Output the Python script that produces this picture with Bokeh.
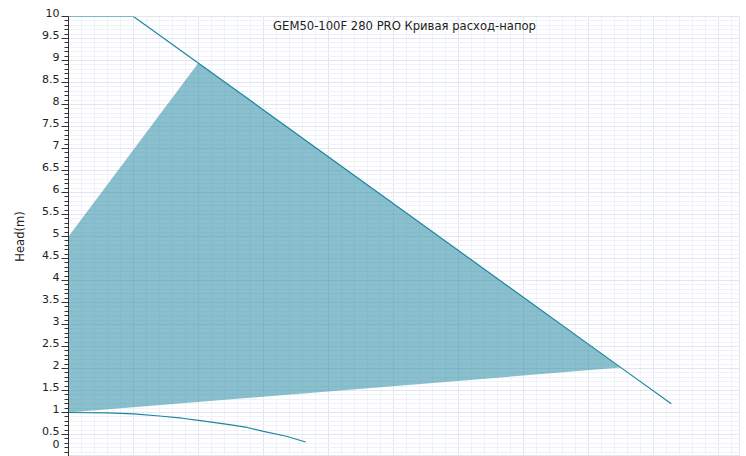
from bokeh.plotting import figure
from bokeh.models import Range1d, SingleIntervalTicker, Grid, Label
from bokeh.embed import file_html
from bokeh.resources import INLINE

# Data (flow in m3/h, head in m)
max_flow = [0, 2, 4, 17, 18.55]
max_head = [10, 10, 8.94, 2.02, 1.2]

area_flow = [0, 4, 17, 0]
area_head = [5.0, 8.95, 2.02, 1.0]

low_flow = [0, 1.2, 2, 2.8, 3.5, 4, 4.9, 5.5, 6, 6.7, 7.3]
low_head = [1.0, 0.99, 0.97, 0.92, 0.87, 0.82, 0.73, 0.66, 0.57, 0.46, 0.33]

y_ticks = [i * 0.5 for i in range(21)]
y_tick_labels = ["0", "0.5", "1", "1.5", "2", "2.5", "3", "3.5", "4", "4.5", "5",
                 "5.5", "6", "6.5", "7", "7.5", "8", "8.5", "9", "9.5", "10"]

title_text = "GEM50-100F 280 PRO Кривая расход-напор"
y_label = "Head(m)"

TEAL = "#1e87a0"

p = figure(width=740, height=456, output_backend="svg", toolbar_location=None,
           x_range=Range1d(0, 20.68), y_range=Range1d(0, 10),
           x_axis_location=None, min_border_left=68, min_border_top=16,
           min_border_right=0, min_border_bottom=0)
p.outline_line_color = "#e3e6f2"
p.grid.visible = False

xg = Grid(dimension=0, ticker=SingleIntervalTicker(interval=2, num_minor_ticks=5),
          grid_line_color="#e3e6f2", minor_grid_line_color="#f0f2f9")
yg = Grid(dimension=1, ticker=SingleIntervalTicker(interval=0.5, num_minor_ticks=5),
          grid_line_color="#e3e6f2", minor_grid_line_color="#f0f2f9")
p.add_layout(xg)
p.add_layout(yg)

ax = p.yaxis[0]
ax.ticker = SingleIntervalTicker(interval=0.5, num_minor_ticks=5)
# labels sit slightly above their ticks: add an empty second line
ax.major_label_overrides = {t: s + "\n " for t, s in zip(y_ticks, y_tick_labels)}
ax.major_label_text_line_height = 0.45
ax.major_label_text_font = "DejaVu Sans"
ax.major_label_text_font_size = "11px"
ax.major_label_text_color = "#222222"
ax.major_label_standoff = 2
ax.major_tick_out = 7
ax.major_tick_in = 0
ax.minor_tick_out = 4
ax.minor_tick_in = 0
ax.axis_line_color = "#333333"
ax.major_tick_line_color = "#333333"
ax.minor_tick_line_color = "#333333"
ax.axis_label = y_label
ax.axis_label_text_font = "DejaVu Sans"
ax.axis_label_text_font_size = "11.5px"
ax.axis_label_text_font_style = "normal"
ax.axis_label_text_color = "#222222"
ax.axis_label_standoff = 12

p.patch(area_flow, area_head, fill_color=TEAL, fill_alpha=0.52, line_color=None)
p.line(max_flow, max_head, line_color=TEAL, line_width=1.2)
p.line(low_flow, low_head, line_color=TEAL, line_width=1.2)

p.add_layout(Label(x=10.34, y=9.79, text=title_text, text_align="center",
                   text_baseline="middle", text_font="DejaVu Sans",
                   text_font_size="11.6px", text_color="#222222"))

open("out.html", "w").write(file_html(p, INLINE))
